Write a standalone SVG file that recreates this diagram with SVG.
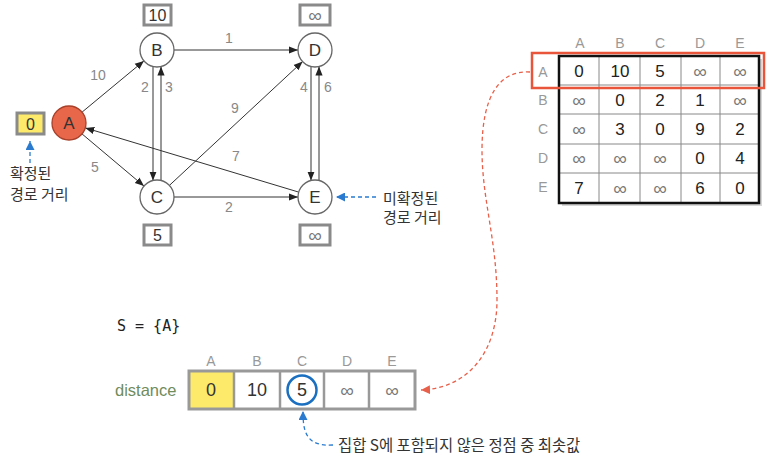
<svg xmlns="http://www.w3.org/2000/svg" width="773" height="461" viewBox="0 0 773 461">
<style>
text{font-family:"Liberation Sans","Noto Sans CJK KR",sans-serif}
.kr{font-family:"Noto Sans CJK KR","Liberation Sans",sans-serif;font-size:15px;fill:#333}
.node{fill:#fff;stroke:#666;stroke-width:1.3}
.nl{font-size:17px;fill:#333;text-anchor:middle;dominant-baseline:central}
.edge{stroke:#333;stroke-width:1;fill:none}
.el{font-size:14px;fill:#888;text-anchor:middle;dominant-baseline:central}
.vbox{fill:#fff;stroke:#8a8a8a;stroke-width:3}
.vt{font-size:16px;fill:#333;text-anchor:middle;dominant-baseline:central}
.inf{font-size:19px;fill:#777;text-anchor:middle;dominant-baseline:central}
.hd{font-size:14px;fill:#999;text-anchor:middle;dominant-baseline:central}
.num{font-size:17px;fill:#222;text-anchor:middle;dominant-baseline:central}
.bdash{stroke:#2a7bd0;stroke-width:1.3;stroke-dasharray:4 3;fill:none}
.rdash{stroke:#e8604a;stroke-width:1.3;stroke-dasharray:4 3;fill:none}
</style>
<defs>
<marker id="ah" viewBox="0 0 10 10" refX="10" refY="5" markerWidth="9" markerHeight="9" markerUnits="userSpaceOnUse" orient="auto"><path d="M0,1 L10,5 L0,9 Z" fill="#222"/></marker>
<marker id="bh" viewBox="0 0 10 10" refX="10" refY="5" markerWidth="9" markerHeight="9" markerUnits="userSpaceOnUse" orient="auto"><path d="M0,0 L10,5 L0,10 Z" fill="#2a7bd0"/></marker>
<marker id="rh" viewBox="0 0 10 10" refX="10" refY="5" markerWidth="9" markerHeight="9" markerUnits="userSpaceOnUse" orient="auto"><path d="M0,0 L10,5 L0,10 Z" fill="#e8604a"/></marker>
</defs>

<g id="connectors">
<line class="edge" x1="82.1" y1="112.1" x2="143.9" y2="60.9" marker-end="url(#ah)"/>
<line class="edge" x1="82" y1="133.9" x2="144" y2="186.1" marker-end="url(#ah)"/>
<line class="edge" x1="174" y1="50" x2="298" y2="50" marker-end="url(#ah)"/>
<line class="edge" x1="153" y1="66.5" x2="153" y2="180.5" marker-end="url(#ah)"/>
<line class="edge" x1="161" y1="180.5" x2="161" y2="66.5" marker-end="url(#ah)"/>
<line class="edge" x1="169.4" y1="185.4" x2="302.6" y2="61.6" marker-end="url(#ah)"/>
<line class="edge" x1="311" y1="66.5" x2="311" y2="180.5" marker-end="url(#ah)"/>
<line class="edge" x1="319" y1="180.5" x2="319" y2="66.5" marker-end="url(#ah)"/>
<line class="edge" x1="174" y1="197" x2="298" y2="197" marker-end="url(#ah)"/>
<line class="edge" x1="298.7" y1="192.1" x2="85.3" y2="127.9" marker-end="url(#ah)"/>
<text class="el" x="98" y="75">10</text>
<text class="el" x="229" y="38">1</text>
<text class="el" x="145" y="87">2</text>
<text class="el" x="169" y="87">3</text>
<text class="el" x="235" y="108">9</text>
<text class="el" x="304" y="87">4</text>
<text class="el" x="328" y="87">6</text>
<text class="el" x="236" y="156">7</text>
<text class="el" x="95" y="167">5</text>
<text class="el" x="229" y="207">2</text>
<path class="bdash" d="M30,163 L30,141" marker-end="url(#bh)"/>
<path class="bdash" d="M376,197 L336,197" marker-end="url(#bh)"/>
<path class="rdash" d="M530,72 C500,70 482,95 482,150 C482,200 497,240 497,300 C497,350 470,388 421,390" marker-end="url(#rh)"/>
<path class="bdash" d="M333,445 C305,447 303,430 303,411" marker-end="url(#bh)"/>
</g>

<g id="node-A"><circle cx="69" cy="123" r="17" fill="#e8674a" stroke="#a8402a" stroke-width="1.3"/><text class="nl" x="69" y="123">A</text></g>
<g id="node-B"><circle class="node" cx="157" cy="50" r="17"/><text class="nl" x="157" y="50">B</text></g>
<g id="node-C"><circle class="node" cx="157" cy="197" r="17"/><text class="nl" x="157" y="197">C</text></g>
<g id="node-D"><circle class="node" cx="315" cy="50" r="17"/><text class="nl" x="315" y="50">D</text></g>
<g id="node-E"><circle class="node" cx="315" cy="197" r="17"/><text class="nl" x="315" y="197">E</text></g>

<g id="dist-A"><rect x="17" y="113" width="27" height="21" fill="#fde96a" stroke="#8a8a8a" stroke-width="3"/><text class="vt" x="30.5" y="124">0</text></g>
<g id="dist-B"><rect class="vbox" x="144" y="5" width="27" height="20"/><text class="vt" x="157.5" y="15">10</text></g>
<g id="dist-C"><rect class="vbox" x="144" y="225" width="27" height="20"/><text class="vt" x="157.5" y="235">5</text></g>
<g id="dist-D"><rect class="vbox" x="300" y="5" width="30" height="20"/><text class="inf" x="315" y="15">∞</text></g>
<g id="dist-E"><rect class="vbox" x="300" y="225" width="30" height="20"/><text class="inf" x="315" y="235">∞</text></g>

<g id="label-confirmed"><text class="kr" x="10" y="179">확정된</text><text class="kr" x="10" y="200">경로 거리</text></g>
<g id="label-unconfirmed"><text class="kr" x="383" y="204">미확정된</text><text class="kr" x="383" y="223">경로 거리</text></g>

<g id="matrix">
<text class="hd" x="580" y="43">A</text><text class="hd" x="620" y="43">B</text><text class="hd" x="660" y="43">C</text><text class="hd" x="700" y="43">D</text><text class="hd" x="740" y="43">E</text>
<text class="hd" x="543" y="72">A</text><text class="hd" x="543" y="100">B</text><text class="hd" x="543" y="129">C</text><text class="hd" x="543" y="158">D</text><text class="hd" x="543" y="187">E</text>
<rect x="562" y="59" width="200" height="147" fill="#bbb" opacity="0.6"/>
<rect x="559" y="56" width="200" height="147" fill="#fff"/>
<g stroke="#888" stroke-width="1">
<line x1="599" y1="56" x2="599" y2="203"/><line x1="640" y1="56" x2="640" y2="203"/><line x1="681" y1="56" x2="681" y2="203"/><line x1="720" y1="56" x2="720" y2="203"/>
<line x1="559" y1="85" x2="759" y2="85"/><line x1="559" y1="114" x2="759" y2="114"/><line x1="559" y1="144" x2="759" y2="144"/><line x1="559" y1="173" x2="759" y2="173"/>
</g>
<rect x="559" y="56" width="200" height="147" fill="none" stroke="#111" stroke-width="2.5"/>
<text class="num" x="579" y="71" font-weight="300">0</text><text class="num" x="620" y="71">10</text><text class="num" x="660" y="71">5</text><text class="inf" x="700" y="71">∞</text><text class="inf" x="740" y="71">∞</text>
<text class="inf" x="579" y="100">∞</text><text class="num" x="620" y="100">0</text><text class="num" x="660" y="100">2</text><text class="num" x="700" y="100">1</text><text class="inf" x="740" y="100">∞</text>
<text class="inf" x="579" y="129">∞</text><text class="num" x="620" y="129">3</text><text class="num" x="660" y="129">0</text><text class="num" x="700" y="129">9</text><text class="num" x="740" y="129">2</text>
<text class="inf" x="579" y="158">∞</text><text class="inf" x="620" y="158">∞</text><text class="inf" x="660" y="158">∞</text><text class="num" x="700" y="158">0</text><text class="num" x="740" y="158">4</text>
<text class="num" x="579" y="188">7</text><text class="inf" x="620" y="188">∞</text><text class="inf" x="660" y="188">∞</text><text class="num" x="700" y="188">6</text><text class="num" x="740" y="188">0</text>
<rect x="532" y="53" width="232" height="35" fill="none" stroke="#e8553a" stroke-width="2.5"/>
</g>

<g id="set-S"><text x="117" y="331" style="font-family:'DejaVu Sans Mono','Liberation Mono',monospace;font-size:15px" fill="#222">S = {A}</text></g>

<g id="distance-array">
<text x="115" y="396" style="font-size:16.5px" fill="#6f8c5c">distance</text>
<text class="hd" x="211" y="361">A</text><text class="hd" x="257" y="361">B</text><text class="hd" x="302" y="361">C</text><text class="hd" x="347" y="361">D</text><text class="hd" x="392" y="361">E</text>
<rect x="189" y="371" width="226" height="38" fill="#fff"/>
<rect x="189" y="371" width="45" height="38" fill="#fde96a"/>
<g stroke="#999" stroke-width="2.5">
<line x1="234" y1="371" x2="234" y2="409"/><line x1="280" y1="371" x2="280" y2="409"/><line x1="324" y1="371" x2="324" y2="409"/><line x1="369" y1="371" x2="369" y2="409"/>
</g>
<rect x="189" y="371" width="226" height="38" fill="none" stroke="#999" stroke-width="3"/>
<text class="vt" x="211" y="390" style="font-size:18px">0</text><text class="vt" x="257" y="390" style="font-size:18px">10</text><text class="vt" x="302" y="390" style="font-size:18px">5</text><text class="inf" x="347" y="390">∞</text><text class="inf" x="392" y="390">∞</text>
<circle cx="302" cy="390" r="14.5" fill="none" stroke="#1a6fc0" stroke-width="2.5"/>
</g>

<g id="label-min"><text class="kr" x="338" y="451" style="font-size:15.4px">집합 S에 포함되지 않은 정점 중 최솟값</text></g>
</svg>
